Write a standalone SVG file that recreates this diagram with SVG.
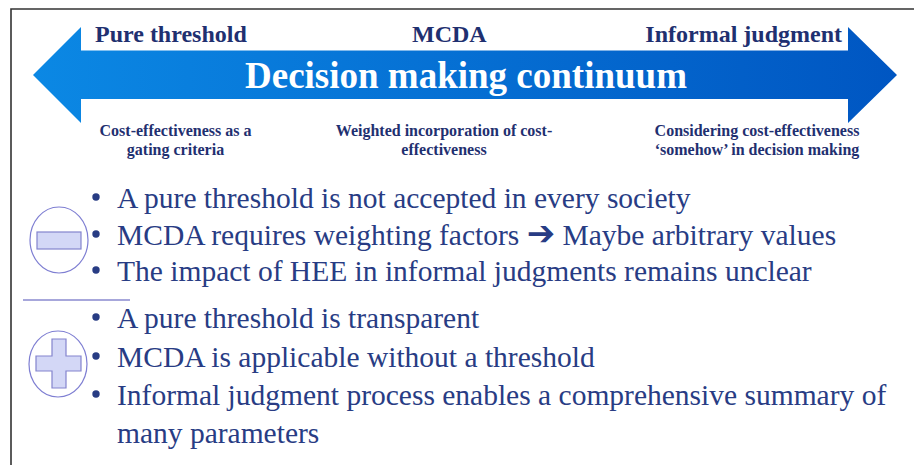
<svg xmlns="http://www.w3.org/2000/svg" width="914" height="465" viewBox="0 0 914 465">
  <defs>
    <linearGradient id="arrowGrad" x1="0" y1="0" x2="1" y2="0">
      <stop offset="0" stop-color="#0B88E4"/>
      <stop offset="1" stop-color="#0056C2"/>
    </linearGradient>
    <style>
      .hdr { font-family: "Liberation Serif", "Times New Roman", serif; font-weight: bold; font-size: 24px; fill: #1F3070; }
      .title { font-family: "Liberation Serif", "Times New Roman", serif; font-weight: bold; font-size: 37px; fill: #FFFFFF; }
      .sub { font-family: "Liberation Serif", "Times New Roman", serif; font-weight: bold; font-size: 16px; fill: #1F3070; text-anchor: middle; }
      .bul { font-family: "Liberation Serif", "Times New Roman", serif; font-size: 29.5px; fill: #283C84; }
      .dot { fill: #283C84; }
      .ring { fill: #FFFFFF; stroke: #7E7ED2; stroke-width: 1.2; }
      .sym { fill: #D3D7F6; stroke: #8484CE; stroke-width: 1.2; }
      .frame { stroke: #333333; stroke-width: 1.6; fill: none; }
    </style>
  </defs>
  <rect x="0" y="0" width="914" height="465" fill="#FFFFFF"/>
  <g id="frame">
    <path class="frame" d="M11,465 L11,9 L914,9"/>
  </g>
  <g id="continuum-arrow">
    <polygon points="33,75 81,27 81,50.5 848,50.5 848,27 897,75 848,123 848,99 81,99 81,123" fill="url(#arrowGrad)"/>
    <text class="title" x="245" y="88">Decision making continuum</text>
  </g>
  <g id="pure-threshold">
    <text class="hdr" x="95" y="42">Pure threshold</text>
    <text class="sub" x="175.5" y="136">Cost-effectiveness as a</text>
    <text class="sub" x="175.5" y="155">gating criteria</text>
  </g>
  <g id="mcda">
    <text class="hdr" x="412" y="42">MCDA</text>
    <text class="sub" x="444" y="136">Weighted incorporation of cost-</text>
    <text class="sub" x="444" y="155">effectiveness</text>
  </g>
  <g id="informal-judgment">
    <text class="hdr" x="842" y="42" text-anchor="end">Informal judgment</text>
    <text class="sub" x="757" y="136">Considering cost-effectiveness</text>
    <text class="sub" x="757" y="155">‘somehow’ in decision making</text>
  </g>
  <g id="minus-icon">
    <ellipse class="ring" cx="59" cy="240" rx="29" ry="33"/>
    <rect class="sym" x="37" y="232" width="44" height="17"/>
  </g>
  <g id="divider">
    <line x1="23" y1="300" x2="130" y2="300" stroke="#8A8ACF" stroke-width="1.3"/>
  </g>
  <g id="plus-icon">
    <ellipse class="ring" cx="58" cy="364" rx="29" ry="33"/>
    <path class="sym" d="M52,339 L66,339 L66,356 L81,356 L81,371 L66,371 L66,388 L52,388 L52,371 L36,371 L36,356 L52,356 Z"/>
  </g>
  <g id="cons">
    <circle class="dot" cx="96" cy="197" r="3.7"/>
    <text class="bul" x="117" y="208">A pure threshold is not accepted in every society</text>
    <circle class="dot" cx="96" cy="234" r="3.7"/>
    <text class="bul" x="117" y="245">MCDA requires weighting factors <tspan font-family="DejaVu Sans, sans-serif" font-weight="bold" font-size="34px">➔</tspan> Maybe arbitrary values</text>
    <circle class="dot" cx="96" cy="270" r="3.7"/>
    <text class="bul" x="117" y="281">The impact of HEE in informal judgments remains unclear</text>
  </g>
  <g id="pros">
    <circle class="dot" cx="96" cy="317" r="3.7"/>
    <text class="bul" x="117" y="328">A pure threshold is transparent</text>
    <circle class="dot" cx="96" cy="356" r="3.7"/>
    <text class="bul" x="117" y="367">MCDA is applicable without a threshold</text>
    <circle class="dot" cx="96" cy="394" r="3.7"/>
    <text class="bul" x="117" y="405">Informal judgment process enables a comprehensive summary of</text>
    <text class="bul" x="117" y="443">many parameters</text>
  </g>
</svg>
